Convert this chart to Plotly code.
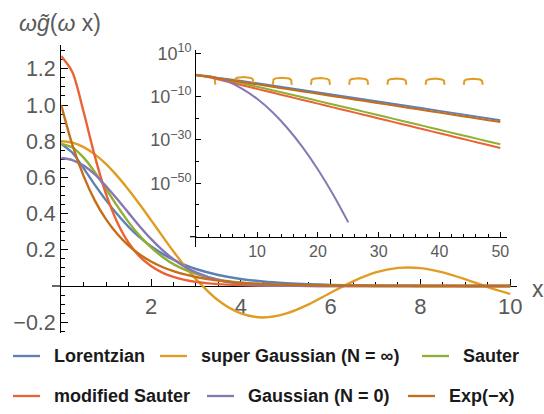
import plotly.graph_objects as go

W, H = 544, 414

# ---------------- data ----------------
main_x = [0, 0.25, 0.5, 0.75, 1, 1.25, 1.5, 1.75, 2, 2.25, 2.5, 2.75, 3, 3.5,
          4, 4.5, 5, 5.5, 6, 6.5, 7, 7.5, 8, 8.5, 9, 9.5, 10]

lorentzian = [0.785, 0.736, 0.650, 0.559, 0.473, 0.396, 0.327, 0.269, 0.220, 0.179,
              0.145, 0.117, 0.094, 0.061, 0.039, 0.025, 0.016, 0.010, 0.0064, 0.004,
              0.0025, 0.0016, 0.001, 0.0006, 0.0004, 0.0003, 0.0002]
super_gauss = [0.800, 0.792, 0.767, 0.727, 0.673, 0.607, 0.532, 0.450, 0.364, 0.277,
               0.191, 0.111, 0.038, -0.080, -0.151, -0.174, -0.153, -0.103, -0.037, 0.026,
               0.075, 0.100, 0.099, 0.075, 0.037, -0.006, -0.044]
sauter = [0.785, 0.765, 0.709, 0.629, 0.536, 0.441, 0.353, 0.277, 0.213, 0.162,
          0.121, 0.090, 0.0665, 0.0354, 0.0184, 0.0095, 0.0048, 0.0024, 0.0012, 0.0006,
          0.0003, 0.00015, 0.0001, 0.00005, 0.00003, 0.00002, 0.00001]
mod_sauter = [1.27, 1.181, 0.961, 0.716, 0.507, 0.351, 0.239, 0.162, 0.110, 0.074,
              0.050, 0.034, 0.0229, 0.0104, 0.0048, 0.0022, 0.0010, 0.00045, 0.0002, 0.0001,
              0.00005, 0.00002, 0.00001, 0, 0, 0, 0]
gaussian = [0.707, 0.696, 0.665, 0.617, 0.551, 0.479, 0.404, 0.329, 0.260, 0.199,
            0.148, 0.107, 0.075, 0.033, 0.013, 0.0045, 0.0014, 0.0004, 0.0001, 0,
            0, 0, 0, 0, 0, 0, 0]
exp_neg = [1.0, 0.779, 0.607, 0.472, 0.368, 0.287, 0.223, 0.174, 0.135, 0.105,
           0.082, 0.064, 0.050, 0.030, 0.018, 0.011, 0.0067, 0.0041, 0.0025, 0.0015,
           0.0009, 0.0006, 0.0003, 0.0002, 0.0001, 0.0001, 0.00005]

main_xticks = [2, 4, 6, 8, 10]
main_xminor = [0.5, 1, 1.5, 2.5, 3, 3.5, 4.5, 5, 5.5, 6.5, 7, 7.5, 8.5, 9, 9.5]
main_yticks = [-0.2, 0.2, 0.4, 0.6, 0.8, 1.0, 1.2]
main_yticklabels = ["\u22120.2", "0.2", "0.4", "0.6", "0.8", "1.0", "1.2"]
main_yminor = [-0.25, -0.15, -0.1, -0.05, 0.05, 0.1, 0.15, 0.25, 0.3, 0.35, 0.45, 0.5,
               0.55, 0.65, 0.7, 0.75, 0.85, 0.9, 0.95, 1.05, 1.1, 1.15, 1.25, 1.3]

# inset (log scale)
inset_x = [0, 2.5, 5, 7.5, 10, 12.5, 15, 17.5, 20, 22.5, 25, 27.5, 30, 32.5, 35,
           37.5, 40, 42.5, 45, 47.5, 50]
inset_lorentzian = [0.785, 0.145, 1.59e-2, 1.57e-3, 1.46e-4, 1.34e-5, 1.2e-6, 1.06e-7,
                    9.2e-9, 8.0e-10, 6.9e-11, 5.96e-12, 5.1e-13, 4.36e-14, 3.7e-15,
                    3.15e-16, 2.67e-17, 2.26e-18, 1.9e-19, 1.61e-20, 1.35e-21]
inset_sauter = [0.785, 0.121, 4.79e-3, 1.41e-4, 3.72e-6, 9.2e-8, 2.17e-9, 4.96e-11,
                1.12e-12, 2.5e-14, 5.47e-16, 1.19e-17, 2.55e-19, 5.42e-21, 1.16e-22,
                2.44e-24, 5.1e-26, 1.07e-27, 2.25e-29, 4.7e-31, 9.7e-33]
inset_mod_sauter = [1.27, 0.050, 9.9e-4, 1.95e-5, 3.84e-7, 7.56e-9, 1.49e-10, 2.93e-12,
                    5.8e-14, 1.14e-15, 2.26e-17, 4.43e-19, 8.8e-21, 1.72e-22, 3.41e-24,
                    6.7e-26, 1.32e-27, 2.6e-29, 5.17e-31, 1.01e-32, 2.01e-34]
inset_exp = [1.0, 0.0821, 6.74e-3, 5.53e-4, 4.54e-5, 3.73e-6, 3.06e-7, 2.51e-8, 2.06e-9,
             1.69e-10, 1.39e-11, 1.14e-12, 9.36e-14, 7.68e-15, 6.31e-16, 5.17e-17,
             4.25e-18, 3.49e-19, 2.86e-20, 2.35e-21, 1.93e-22]
inset_gauss_x = [0, 2.5, 5, 7.5, 10, 12.5, 15, 17.5, 20, 22.5, 25]
inset_gaussian = [0.707, 0.148, 1.36e-3, 5.5e-7, 9.8e-12, 7.7e-18, 2.6e-25, 4.0e-34,
                  2.6e-44, 7.6e-56, 9.8e-69]
# super Gaussian: only positive lobes are visible on the log axis
inset_sg_x = [0, 1, 2, 2.7, 3.02, 3.13, None,
              6.29, 6.40, 6.73, 7.85, 8.98, 9.30, 9.42, None,
              12.58, 12.69, 13.02, 14.14, 15.26, 15.59, 15.70, None,
              18.86, 18.97, 19.30, 20.42, 21.54, 21.87, 21.98, None,
              25.14, 25.25, 25.58, 26.70, 27.83, 28.15, 28.26, None,
              31.43, 31.54, 31.87, 32.99, 34.11, 34.44, 34.55, None,
              37.71, 37.82, 38.15, 39.27, 40.39, 40.72, 40.83, None,
              43.99, 44.10, 44.43, 45.55, 46.68, 47.00, 47.11]
inset_sg = [0.8, 0.673, 0.364, 0.127, 0.0317, 3e-5, None,
            3e-5, 0.0150, 0.0517, 0.102, 0.0388, 0.0103, 3e-5, None,
            3e-5, 0.00755, 0.0267, 0.0566, 0.0228, 0.00614, 3e-5, None,
            3e-5, 0.00504, 0.0180, 0.0392, 0.0162, 0.00438, 3e-5, None,
            3e-5, 0.00379, 0.0136, 0.0300, 0.0125, 0.0034, 3e-5, None,
            3e-5, 0.00303, 0.0109, 0.0243, 0.0102, 0.00278, 3e-5, None,
            3e-5, 0.00253, 0.00912, 0.0204, 0.00862, 0.00235, 3e-5, None,
            3e-5, 0.00217, 0.00783, 0.0176, 0.00746, 0.00204, 3e-5]

inset_xticks = [10, 20, 30, 40, 50]
inset_xminor = [2, 4, 6, 8, 12, 14, 16, 18, 22, 24, 26, 28, 32, 34, 36, 38, 42, 44, 46, 48]
inset_yticks = [1e10, 1e-10, 1e-30, 1e-50]
inset_yticklabels = ["10<sup>10</sup>", "10<sup>\u221210</sup>", "10<sup>\u221230</sup>",
                     "10<sup>\u221250</sup>"]
inset_yminor = [1e0, 1e-20, 1e-40, 1e-60, 1e-70]

names = ["Lorentzian", "super Gaussian (N = \u221e)", "Sauter",
         "modified Sauter", "Gaussian (N = 0)", "Exp(\u2212x)"]
colors = ["#5E81B5", "#E19C24", "#8FB032", "#EB6235", "#8778B3", "#C56E1A"]

# ---------------- figure ----------------
fig = go.Figure()

main_series = [lorentzian, super_gauss, sauter, mod_sauter, gaussian, exp_neg]
for nm, col, ys in zip(names, colors, main_series):
    fig.add_trace(go.Scatter(x=main_x, y=ys, mode="lines", name=nm, showlegend=False,
                             line=dict(color=col, width=2.4, shape="spline", smoothing=0.8),
                             xaxis="x", yaxis="y", cliponaxis=False))

inset_series = [(inset_x, inset_lorentzian, "linear"), (inset_sg_x, inset_sg, "linear"),
                (inset_x, inset_sauter, "spline"), (inset_x, inset_mod_sauter, "spline"),
                (inset_gauss_x, inset_gaussian, "spline"), (inset_x, inset_exp, "spline")]
for nm, col, (xs, ys, shp) in zip(names, colors, inset_series):
    fig.add_trace(go.Scatter(x=xs, y=ys, mode="lines", name=nm, showlegend=False,
                             connectgaps=False, cliponaxis=False,
                             line=dict(color=col, width=2.0, shape=shp),
                             xaxis="x2", yaxis="y2"))

FONT = "Liberation Sans, Arial, sans-serif"
LBL = "#5a5a5a"

x0m, sxm = 61.2, 44.9
y0m, sym = 286.0, 181.0
x0i, sxi = 196.3, 6.08
yi_ref, syi = 53.3, 2.167  # pixel of 10^10, pixels per decade

def fx(px):
    return px / W

def fy(py):
    return 1 - py / H

tick_common = dict(showgrid=False, zeroline=False, showline=True, linecolor="black",
                   linewidth=1.2, ticks="inside", tickcolor="black", tickwidth=1.1,
                   layer="below traces", tickmode="array", automargin=False)

fig.update_layout(
    template="none",
    width=W, height=H, margin=dict(l=0, r=0, t=0, b=0, pad=0, autoexpand=False),
    paper_bgcolor="white", plot_bgcolor="rgba(0,0,0,0)",
    xaxis=dict(domain=[fx(x0m), fx(517)], range=[0, (517 - x0m) / sxm],
               anchor="free", position=fy(y0m),
               tickvals=main_xticks, ticktext=[str(v) for v in main_xticks], ticklen=7,
               tickfont=dict(family=FONT, size=22, color=LBL),
               minor=dict(tickvals=main_xminor, ticklen=4, ticks="inside",
                          tickcolor="black", tickwidth=1),
               **tick_common),
    yaxis=dict(domain=[fy(332.7), fy(45)],
               range=[(y0m - 332.7) / sym, (y0m - 45) / sym], anchor="x",
               tickvals=main_yticks, ticktext=main_yticklabels, ticklen=7,
               tickfont=dict(family=FONT, size=21.5, color=LBL),
               minor=dict(tickvals=main_yminor, ticklen=4, ticks="inside",
                          tickcolor="black", tickwidth=1),
               **tick_common),
    xaxis2=dict(domain=[fx(x0i), fx(507)], range=[0, (507 - x0i) / sxi],
                anchor="free", position=fy(236.7),
                tickvals=inset_xticks, ticktext=[str(v) for v in inset_xticks], ticklen=5,
                tickfont=dict(family=FONT, size=16, color=LBL),
                minor=dict(tickvals=inset_xminor, ticklen=3, ticks="inside",
                           tickcolor="black", tickwidth=1),
                **tick_common),
    yaxis2=dict(type="log", domain=[fy(246.7), fy(50)],
                range=[10 - (246.7 - yi_ref) / syi, 10 + (yi_ref - 50) / syi], anchor="x2",
                tickvals=inset_yticks, ticktext=inset_yticklabels, ticklen=5,
                tickfont=dict(family=FONT, size=18, color=LBL),
                minor=dict(tickvals=inset_yminor, ticklen=3, ticks="inside",
                           tickcolor="black", tickwidth=1),
                **tick_common),
)

annotations = [
    dict(text="<i>\u03c9</i><i>g\u0303</i>(<i>\u03c9</i> x)", x=fx(17), y=fy(23),
         xref="paper", yref="paper", xanchor="left", yanchor="middle", showarrow=False,
         font=dict(family=FONT, size=23, color=LBL)),
    dict(text="x", x=fx(530), y=fy(289), xref="paper", yref="paper", xanchor="left",
         yanchor="middle", showarrow=False, font=dict(family=FONT, size=23, color=LBL)),
]

# short pieces of the x axes left of the origin (Mathematica style crossing axes)
shapes = [
    dict(type="line", xref="paper", yref="paper", x0=fx(52), x1=fx(x0m),
         y0=fy(y0m), y1=fy(y0m), line=dict(color="black", width=1.2), layer="below"),
    dict(type="line", xref="paper", yref="paper", x0=fx(190), x1=fx(x0i),
         y0=fy(236.7), y1=fy(236.7), line=dict(color="black", width=1.2), layer="below"),
]

# legend (two rows, drawn as line samples + labels)
legend_rows = [(356, [(13, 0), (160, 1), (422, 2)]), (396, [(13, 3), (207, 4), (408, 5)])]
for ypx, items in legend_rows:
    for xpx, idx in items:
        shapes.append(dict(type="line", xref="paper", yref="paper",
                           x0=fx(xpx), x1=fx(xpx + 27), y0=fy(ypx), y1=fy(ypx),
                           line=dict(color=colors[idx], width=2.3)))
        annotations.append(dict(text="<b>" + names[idx] + "</b>", x=fx(xpx + 39), y=fy(ypx),
                                xref="paper", yref="paper", xanchor="left", yanchor="middle",
                                showarrow=False,
                                font=dict(family=FONT, size=18, color="#1a1a1a")))

fig.update_layout(annotations=annotations, shapes=shapes)

fig.write_html("out.html", config={"displayModeBar": False},
               post_script="document.body.style.margin='0px';")
